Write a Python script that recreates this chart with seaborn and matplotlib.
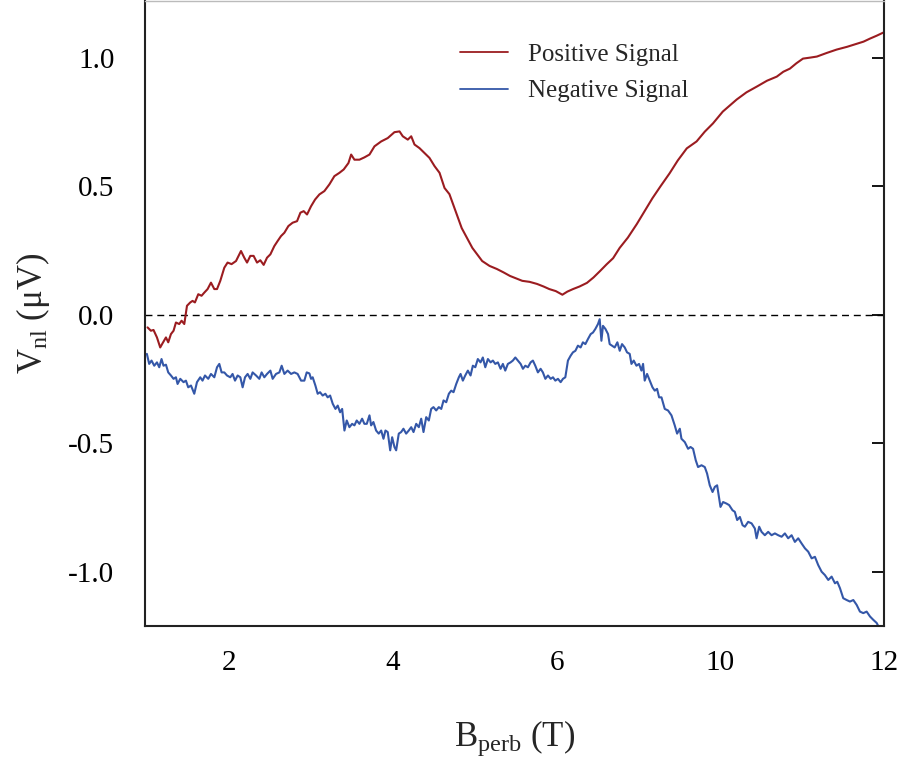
import numpy as np
import pandas as pd
import seaborn as sns
import matplotlib
matplotlib.use("Agg")
import matplotlib.pyplot as plt

# x in axis-position units (ticks at 2,4,6,8,10 are labelled 2,4,6,10,12)
pos_x = [1.001, 1.042, 1.074, 1.116, 1.156, 1.184, 1.226, 1.254, 1.287, 1.319, 1.348, 1.388,
         1.417, 1.450, 1.483, 1.523, 1.551, 1.580, 1.621, 1.661, 1.694, 1.735, 1.776, 1.817,
         1.850, 1.890, 1.939, 1.979, 2.028, 2.082, 2.143, 2.183, 2.217, 2.257, 2.297, 2.339,
         2.379, 2.420, 2.461, 2.502, 2.550, 2.591, 2.632, 2.673, 2.722, 2.774, 2.828, 2.869,
         2.909, 2.950, 2.999, 3.048, 3.101, 3.162, 3.223, 3.284, 3.346, 3.398, 3.456, 3.489,
         3.529, 3.590, 3.651, 3.713, 3.774, 3.856, 3.936, 4.018, 4.080, 4.120, 4.181, 4.223,
         4.263, 4.324, 4.385, 4.446, 4.508, 4.569, 4.630,
         4.69, 4.84, 4.97, 5.09, 5.18, 5.27, 5.35, 5.43, 5.50, 5.58, 5.67, 5.76, 5.84, 5.91,
         5.99, 6.07, 6.13, 6.20, 6.28, 6.37, 6.45, 6.53, 6.61, 6.69, 6.77, 6.87, 6.98, 7.07,
         7.17, 7.27, 7.38, 7.48, 7.59, 7.71, 7.81, 7.91, 8.03, 8.11, 8.20, 8.32, 8.45, 8.57,
         8.69, 8.77, 8.85, 8.93, 9.01, 9.10, 9.18, 9.30, 9.42, 9.55, 9.67, 9.75, 9.83, 9.91,
         9.99]
pos_y = [-0.049, -0.062, -0.059, -0.088, -0.127, -0.111, -0.088, -0.107, -0.075, -0.062, -0.030,
         -0.036, -0.023, -0.036, 0.035, 0.048, 0.054, 0.048, 0.080, 0.074, 0.086, 0.100, 0.125,
         0.100, 0.100, 0.132, 0.183, 0.203, 0.197, 0.209, 0.248, 0.222, 0.203, 0.229, 0.229,
         0.203, 0.212, 0.194, 0.222, 0.235, 0.267, 0.287, 0.306, 0.319, 0.345, 0.358, 0.364,
         0.397, 0.403, 0.390, 0.422, 0.448, 0.468, 0.481, 0.507, 0.539, 0.552, 0.565, 0.590,
         0.623, 0.603, 0.603, 0.612, 0.623, 0.655, 0.674, 0.687, 0.710, 0.713, 0.694, 0.681,
         0.694, 0.662, 0.648, 0.629, 0.610, 0.578, 0.552, 0.493,
         0.469, 0.337, 0.260, 0.209, 0.190, 0.178, 0.165, 0.151, 0.142, 0.132, 0.128, 0.120,
         0.110, 0.100, 0.092, 0.078, 0.090, 0.100, 0.110, 0.124, 0.145, 0.170, 0.196, 0.220,
         0.260, 0.300, 0.353, 0.400, 0.453, 0.500, 0.550, 0.600, 0.647, 0.674, 0.712, 0.744,
         0.790, 0.812, 0.837, 0.865, 0.888, 0.910, 0.926, 0.945, 0.957, 0.978, 0.996, 1.000,
         1.004, 1.018, 1.031, 1.042, 1.054, 1.062, 1.074, 1.085, 1.097]

neg_x = [0.993, 1.021, 1.050, 1.083, 1.116, 1.144, 1.172, 1.196, 1.226, 1.254, 1.287, 1.319,
         1.348, 1.368, 1.401, 1.441, 1.470, 1.498, 1.532, 1.572, 1.605, 1.645, 1.673, 1.703,
         1.743, 1.776, 1.817, 1.850, 1.878, 1.906, 1.939, 1.972, 2.012, 2.040, 2.070, 2.102,
         2.135, 2.163, 2.192, 2.224, 2.257, 2.285, 2.327, 2.367, 2.395, 2.428, 2.461, 2.502,
         2.530, 2.571, 2.612, 2.640, 2.673, 2.713, 2.755, 2.795, 2.835, 2.877, 2.917, 2.946,
         2.979, 2.999, 3.019, 3.052, 3.080, 3.109, 3.141, 3.174, 3.202, 3.232, 3.264, 3.297,
         3.325, 3.354, 3.379, 3.407, 3.435, 3.468, 3.501, 3.529, 3.557, 3.590, 3.623, 3.651,
         3.680, 3.713, 3.733, 3.761, 3.794, 3.826, 3.856, 3.884, 3.908, 3.936, 3.966, 3.990,
         4.018, 4.039, 4.071, 4.100, 4.128, 4.161, 4.193, 4.223, 4.251, 4.284, 4.316, 4.345,
         4.373, 4.406, 4.438, 4.467, 4.495, 4.528, 4.560, 4.590, 4.618, 4.651, 4.683, 4.712,
         4.740, 4.773, 4.805, 4.826, 4.854, 4.883, 4.915, 4.948, 4.976, 5.006, 5.037, 5.070,
         5.098, 5.128, 5.160, 5.193, 5.221, 5.250, 5.282, 5.315, 5.343, 5.372, 5.404, 5.437,
         5.465, 5.495, 5.527, 5.560, 5.588, 5.617, 5.649, 5.682, 5.710, 5.739, 5.771, 5.804,
         5.832, 5.862, 5.894, 5.927, 5.955, 5.984, 6.016, 6.049, 6.077, 6.106, 6.138, 6.171,
         6.199, 6.229, 6.260, 6.293, 6.321, 6.351, 6.383, 6.416, 6.444, 6.473, 6.505, 6.526,
         6.547, 6.566, 6.596, 6.628, 6.648, 6.676, 6.709, 6.742, 6.771, 6.799, 6.832, 6.860,
         6.893, 6.914, 6.942, 6.975, 7.007, 7.036, 7.056, 7.076, 7.105, 7.138, 7.171, 7.199,
         7.227, 7.252, 7.281, 7.321, 7.361, 7.403, 7.443, 7.472, 7.505, 7.525, 7.566, 7.606,
         7.636, 7.667, 7.700, 7.728, 7.770, 7.810, 7.838, 7.871, 7.905, 7.933, 7.961, 8.002,
         8.034, 8.076, 8.108, 8.149, 8.177, 8.206, 8.239, 8.272, 8.300, 8.340, 8.382, 8.422,
         8.443, 8.475, 8.504, 8.544, 8.585, 8.626, 8.667, 8.707, 8.749, 8.789, 8.829, 8.871,
         8.911, 8.952, 8.993, 9.034, 9.074, 9.116, 9.156, 9.196, 9.238, 9.278, 9.319, 9.360,
         9.401, 9.429, 9.462, 9.502, 9.544, 9.584, 9.625, 9.666, 9.706, 9.747, 9.788, 9.829,
         9.869, 9.910, 9.930]
neg_y = [-0.152, -0.191, -0.178, -0.198, -0.185, -0.204, -0.172, -0.198, -0.194, -0.224, -0.236,
         -0.249, -0.243, -0.269, -0.249, -0.262, -0.256, -0.282, -0.275, -0.307, -0.262, -0.243,
         -0.256, -0.236, -0.249, -0.230, -0.243, -0.204, -0.191, -0.224, -0.224, -0.236, -0.243,
         -0.230, -0.256, -0.236, -0.243, -0.282, -0.243, -0.230, -0.249, -0.224, -0.236, -0.249,
         -0.224, -0.243, -0.230, -0.217, -0.249, -0.230, -0.224, -0.198, -0.230, -0.217, -0.230,
         -0.224, -0.230, -0.256, -0.256, -0.224, -0.228, -0.249, -0.243, -0.275, -0.307, -0.301,
         -0.314, -0.307, -0.321, -0.314, -0.346, -0.366, -0.353, -0.379, -0.366, -0.450, -0.411,
         -0.437, -0.424, -0.430, -0.411, -0.424, -0.404, -0.424, -0.424, -0.391, -0.430, -0.417,
         -0.450, -0.462, -0.450, -0.482, -0.450, -0.456, -0.527, -0.476, -0.514, -0.527, -0.462,
         -0.456, -0.443, -0.462, -0.450, -0.437, -0.456, -0.424, -0.437, -0.404, -0.456, -0.398,
         -0.411, -0.366, -0.359, -0.372, -0.359, -0.366, -0.333, -0.340, -0.307, -0.295, -0.301,
         -0.269, -0.243, -0.230, -0.256, -0.236, -0.217, -0.236, -0.198, -0.204, -0.172, -0.185,
         -0.166, -0.204, -0.172, -0.185, -0.178, -0.191, -0.185, -0.210, -0.191, -0.217, -0.191,
         -0.185, -0.178, -0.166, -0.178, -0.191, -0.210, -0.198, -0.204, -0.185, -0.178, -0.198,
         -0.224, -0.210, -0.224, -0.249, -0.236, -0.249, -0.243, -0.256, -0.249, -0.262, -0.249,
         -0.243, -0.178, -0.159, -0.146, -0.140, -0.120, -0.127, -0.107, -0.114, -0.094, -0.075,
         -0.069, -0.055, -0.036, -0.017, -0.101, -0.043, -0.055, -0.075, -0.114, -0.120, -0.127,
         -0.107, -0.140, -0.114, -0.127, -0.146, -0.152, -0.191, -0.178, -0.198, -0.191, -0.217,
         -0.191, -0.256, -0.230, -0.256, -0.282, -0.295, -0.288, -0.321, -0.321, -0.366, -0.372,
         -0.391, -0.430, -0.462, -0.443, -0.482, -0.495, -0.521, -0.514, -0.521, -0.566, -0.592,
         -0.585, -0.592, -0.617, -0.663, -0.689, -0.669, -0.663, -0.747, -0.728, -0.734, -0.740,
         -0.760, -0.766, -0.798, -0.786, -0.818, -0.824, -0.805, -0.811, -0.831, -0.869, -0.824,
         -0.844, -0.857, -0.844, -0.857, -0.850, -0.857, -0.863, -0.850, -0.869, -0.857, -0.883,
         -0.869, -0.889, -0.908, -0.921, -0.947, -0.941, -0.973, -0.999, -1.012, -1.031, -1.018,
         -1.044, -1.038, -1.063, -1.102, -1.109, -1.115, -1.109, -1.128, -1.154, -1.160, -1.154,
         -1.173, -1.186, -1.198, -1.210]

x_ticks = [2, 4, 6, 8, 10]
x_tick_labels = ["2", "4", "6", "10", "12"]
y_ticks = [-1.0, -0.5, 0.0, 0.5, 1.0]
y_tick_labels = ["-1.0", "-0.5", "0.0", "0.5", "1.0"]
series_names = ["Positive Signal", "Negative Signal"]
colors = ["#9b1c20", "#3457a8"]

df = pd.concat([
    pd.DataFrame({"B": pos_x, "V": pos_y, "series": series_names[0]}),
    pd.DataFrame({"B": neg_x, "V": neg_y, "series": series_names[1]}),
], ignore_index=True)

sns.set_theme(style="white")
plt.rcParams["font.family"] = ["Liberation Serif", "DejaVu Serif"]
plt.rcParams["mathtext.fontset"] = "custom"
plt.rcParams["mathtext.rm"] = "Liberation Serif"
plt.rcParams["mathtext.it"] = "Liberation Serif:italic"

fig = plt.figure(figsize=(9.06, 7.65), dpi=100)
ax = fig.add_axes([145/906, 139/765, 739/906, 625/765])

sns.lineplot(data=df, x="B", y="V", hue="series", palette=colors, sort=False,
             estimator=None, linewidth=1.5, ax=ax)
ax.axhline(0, color="black", linestyle=(0, (5, 3.5)), linewidth=1.0, zorder=0)

ax.set_xlim(0.97, 10.0)
ax.set_ylim(-1.21, 1.22)
ax.set_xticks(x_ticks)
ax.set_xticklabels(x_tick_labels)
ax.set_yticks(y_ticks)
ax.set_yticklabels(y_tick_labels)
ax.tick_params(axis="both", direction="in", length=9, width=1.3, labelsize=21,
               colors="black", top=False, right=True)
ax.tick_params(axis="x", pad=17)
ax.tick_params(axis="y", pad=22)
for s in ["left", "right", "bottom"]:
    ax.spines[s].set_color("#222222")
    ax.spines[s].set_linewidth(1.5)
ax.spines["top"].set_color("#bbbbbb")
ax.spines["top"].set_linewidth(1.0)

ax.set_xlabel(r"B$_{\mathregular{perb}}$ (T)", fontsize=25, labelpad=31)
ax.set_ylabel(r"V$_{\mathregular{nl}}$ ($\mathregular{\mu}$V)", fontsize=25, labelpad=12)

leg = ax.legend(loc="upper left", bbox_to_anchor=(0.396, 0.968), frameon=False,
                fontsize=18, handlelength=1.9, handletextpad=0.8, labelspacing=0.55)
for line in leg.get_lines():
    line.set_linewidth(1.3)

fig.savefig("out.png", dpi=100)
